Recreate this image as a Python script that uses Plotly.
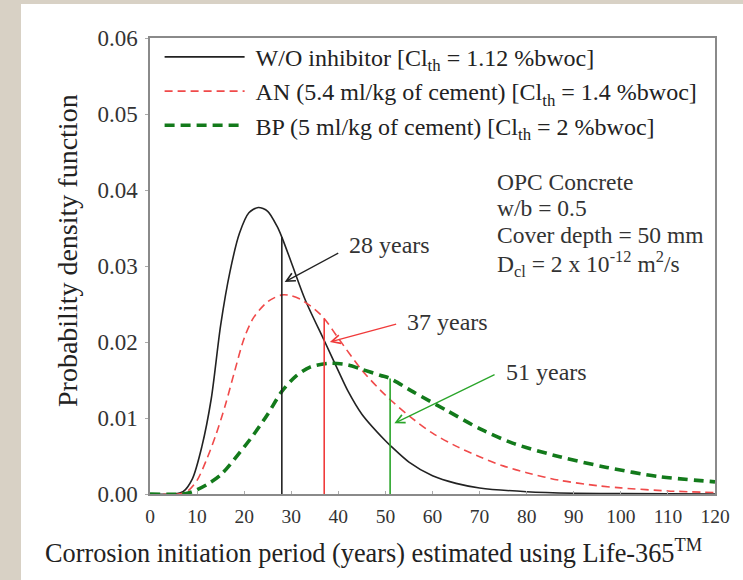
import plotly.graph_objects as go

# ---- data ----
wo_years = [0, 5, 7, 9, 11, 13, 15, 17, 19, 21, 23, 25, 27, 28, 30, 33, 37, 40, 42, 45, 50, 51, 55, 60, 65, 70, 80, 90, 100, 120]
wo_pdf = [0, 0, 0.0003, 0.0020, 0.0062, 0.0125, 0.0222, 0.0293, 0.0343, 0.0370, 0.0377, 0.0372, 0.0352, 0.0338, 0.0305,
          0.0255, 0.0202, 0.0162, 0.0136, 0.0105, 0.0070, 0.0064, 0.0042, 0.0024, 0.0014, 0.0008, 0.0003, 0.0001, 0.00005, 0]

an_years = [0, 6, 8, 10, 12, 14, 16, 18, 20, 22, 25, 28, 30, 32, 35, 37, 40, 45, 50, 55, 60, 65, 70, 75, 80, 87, 95, 100, 110, 120]
an_pdf = [0, 0, 0.0004, 0.0018, 0.0045, 0.0078, 0.0117, 0.0162, 0.0205, 0.0232, 0.0253, 0.0262, 0.0261, 0.0256, 0.0243,
          0.0231, 0.0205, 0.0163, 0.0130, 0.0103, 0.0080, 0.0063, 0.0049, 0.0037, 0.0028, 0.0018, 0.0011, 0.0008, 0.0004, 0.0002]

bp_years = [0, 7, 9, 12, 15, 19, 22, 25, 28, 31, 34, 38, 42, 45, 49, 51, 56, 63, 70, 77, 87, 97, 108, 120]
bp_pdf = [0, 0, 0.0003, 0.0012, 0.0025, 0.0054, 0.0078, 0.0105, 0.0135, 0.0155, 0.0167, 0.0172, 0.0170, 0.0164,
          0.0156, 0.0152, 0.0134, 0.0110, 0.0086, 0.0067, 0.0049, 0.0035, 0.0023, 0.0016]

series_names = [
    "W/O inhibitor [Cl<sub>th</sub> = 1.12 %bwoc]",
    "AN (5.4 ml/kg of cement) [Cl<sub>th</sub> = 1.4 %bwoc]",
    "BP (5 ml/kg of cement) [Cl<sub>th</sub> = 2 %bwoc]",
]

mean_years = [28, 37, 51]
mean_pdf = [0.0338, 0.0231, 0.0152]
mean_labels = ["28 years", "37 years", "51 years"]
arrow_tail_x = [40.3, 52.6, 73.5]
arrow_tail_y = [0.0318, 0.0224, 0.0158]
arrow_head_x = [28.6, 38.2, 51.9]
arrow_head_y = [0.0279, 0.0200, 0.0093]

x_ticks = list(range(0, 121, 10))
y_ticks = [0.00, 0.01, 0.02, 0.03, 0.04, 0.05, 0.06]

info_lines = ["OPC Concrete", "w/b = 0.5", "Cover depth = 50 mm",
              "D<sub>cl</sub> = 2 x 10<sup>-12</sup> m<sup>2</sup>/s"]
info_y = [0.0411, 0.0376, 0.0341, 0.0303]

# ---- styles ----
FONT = "Liberation Serif, Times New Roman, serif"
curve_colors = ["#222222", "#f04a4a", "#137a1b"]
vline_colors = ["#222222", "#f03a3a", "#2aa52a"]
label_dy = [0.001, 0.0002, 0.0002]
W, H = 743, 580
L, R, T, B = 150, 28, 38, 86
pw, ph = W - L - R, H - T - B

fig = go.Figure()
fig.add_trace(go.Scatter(x=wo_years, y=wo_pdf, mode="lines", name="&nbsp;" + series_names[0], legendgroup="g0",
                         line=dict(color=curve_colors[0], width=1.6, shape="spline", smoothing=0.8)))
fig.add_trace(go.Scatter(x=an_years, y=an_pdf, mode="lines", name="&nbsp;" + series_names[1], legendgroup="g1",
                         line=dict(color=curve_colors[1], width=1.6, dash="8px,5px", shape="spline", smoothing=0.8)))
fig.add_trace(go.Scatter(x=bp_years, y=bp_pdf, mode="lines", name="&nbsp;" + series_names[2], legendgroup="g2",
                         line=dict(color=curve_colors[2], width=3.6, dash="10px,6px", shape="spline", smoothing=0.8)))

for i in range(3):
    fig.add_trace(go.Scatter(x=[mean_years[i], mean_years[i]], y=[0, mean_pdf[i]], mode="lines",
                             showlegend=False, hoverinfo="skip",
                             line=dict(color=vline_colors[i], width=1.6)))

annotations = []
for i in range(3):
    annotations.append(dict(x=arrow_head_x[i], y=arrow_head_y[i], ax=arrow_tail_x[i], ay=arrow_tail_y[i],
                            xref="x", yref="y", axref="x", ayref="y", text="", showarrow=True,
                            arrowhead=5, arrowsize=1.3, arrowwidth=1.3, arrowcolor=vline_colors[i]))
    annotations.append(dict(x=arrow_tail_x[i] + 1.6, y=arrow_tail_y[i] + label_dy[i], xref="x", yref="y",
                            text=mean_labels[i], showarrow=False, xanchor="left", yanchor="middle",
                            font=dict(family=FONT, size=24, color="#333333")))

for j, t in enumerate(info_lines):
    annotations.append(dict(x=73.3, y=info_y[j], xref="x", yref="y", text=t, showarrow=False,
                            xanchor="left", yanchor="middle",
                            font=dict(family=FONT, size=23.5, color="#333333")))

annotations.append(dict(x=(373 - L) / pw, y=(H - 551 - B) / ph, xref="paper", yref="paper",
                        text="Corrosion initiation period (years) estimated using Life-365<sup>TM</sup>",
                        showarrow=False, xanchor="center", yanchor="middle",
                        font=dict(family=FONT, size=26.3, color="#222222")))
annotations.append(dict(x=(68 - L) / pw, y=(H - 251 - B) / ph, xref="paper", yref="paper",
                        text="Probability density function", textangle=-90,
                        showarrow=False, xanchor="center", yanchor="middle",
                        font=dict(family=FONT, size=28, color="#222222")))

shapes = [dict(type="rect", xref="paper", yref="paper", layer="below",
               x0=(21 - L) / pw, x1=(W + 5 - L) / pw, y0=(H - 585 - B) / ph, y1=(H - 4 - B) / ph,
               fillcolor="white", line=dict(width=0))]

fig.update_layout(
    width=W, height=H,
    margin=dict(l=L, r=R, t=T, b=B),
    paper_bgcolor="#d8d1c5",
    plot_bgcolor="white",
    font=dict(family=FONT, color="#333333"),
    showlegend=True,
    legend=dict(x=0.017, y=1.007, xanchor="left", yanchor="top", bgcolor="rgba(0,0,0,0)",
                font=dict(family=FONT, size=24, color="#222222"), itemwidth=80,
                tracegroupgap=0),
    annotations=annotations,
    shapes=shapes,
)
fig.update_xaxes(range=[0, 120], tickvals=x_ticks, ticktext=[str(v) for v in x_ticks],
                 showgrid=False, zeroline=False, showline=True, mirror=True,
                 linecolor="#8a8a8a", linewidth=1.5, ticks="inside", ticklen=3, tickcolor="#aaaaaa",
                 ticklabelstandoff=4,
                 tickfont=dict(family=FONT, size=19.5, color="#333333"))
fig.update_yaxes(range=[0, 0.06], tickvals=y_ticks, ticktext=[f"{v:.2f}" for v in y_ticks],
                 showgrid=False, zeroline=False, showline=True, mirror=True,
                 linecolor="#8a8a8a", linewidth=1.5, ticks="outside", ticklen=3, tickcolor="#aaaaaa",
                 ticklabelstandoff=3,
                 tickfont=dict(family=FONT, size=23, color="#333333"))

fig.write_html("out.html", config={"displayModeBar": False},
               post_script="document.body.style.margin='0';")
